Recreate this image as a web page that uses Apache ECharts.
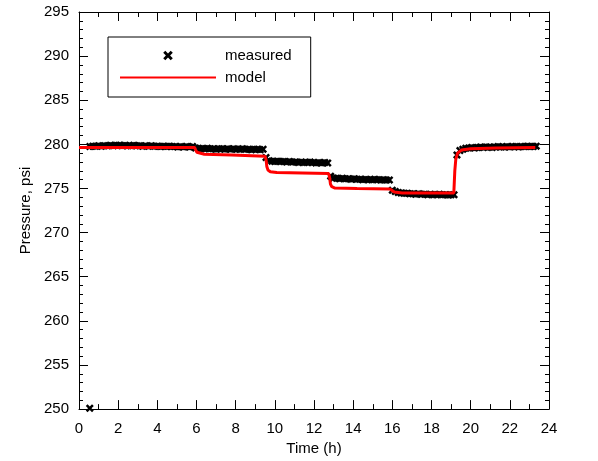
<!DOCTYPE html>
<html>
<head>
<meta charset="utf-8">
<script src="https://cdn.jsdelivr.net/npm/echarts@6/dist/echarts.min.js"></script>
<style>
  html, body { margin: 0; padding: 0; background: #fff; }
  #chart { width: 598px; height: 461px; }
</style>
</head>
<body>
<div id="chart"></div>
<script>
// Gauge record: first (spurious) reading, then logger samples every 0.15 h from 0.55 h
const outlierReading = [0.55, 250.1];
const sampleStart = 0.55;
const sampleStep = 0.15;
const measuredPressure = [
  // 0.55 – 5.80 h
  279.75, 279.8, 279.8, 279.85, 279.8, 279.85, 279.85, 279.9, 279.85, 279.9,
  279.9, 279.85, 279.9, 279.85, 279.85, 279.9, 279.85, 279.85, 279.8, 279.85,
  279.8, 279.85, 279.8, 279.8, 279.75, 279.8, 279.75, 279.8, 279.75, 279.75,
  279.7, 279.75, 279.7, 279.75, 279.7, 279.75,
  // 5.95 h
  279.6,
  // 6.10 – 9.40 h
  279.55, 279.5, 279.5, 279.55, 279.5, 279.5, 279.45, 279.5, 279.5, 279.45,
  279.5, 279.45, 279.5, 279.45, 279.45, 279.5, 279.45, 279.45, 279.4, 279.45,
  279.45, 279.4, 279.45,
  // 9.55 h
  278.5,
  // 9.70 – 12.70 h
  278.15, 278.1, 278.05, 278.1, 278.05, 278.05, 278.0, 278.05, 278.0, 278.0,
  277.95, 278.0, 277.95, 277.95, 278.0, 277.95, 277.9, 277.95, 277.9, 277.95,
  277.9,
  // 12.85 h
  276.4,
  // 13.00 – 15.85 h
  276.2, 276.15, 276.1, 276.15, 276.1, 276.1, 276.05, 276.1, 276.05, 276.05,
  276.0, 276.05, 276.0, 276.0, 276.05, 276.0, 275.95, 276.0, 275.95, 275.95,
  // 16.00 h
  274.8,
  // 16.15 – 19.15 h
  274.65, 274.55, 274.5, 274.45, 274.45, 274.4, 274.4, 274.35, 274.4, 274.35,
  274.35, 274.3, 274.35, 274.3, 274.3, 274.35, 274.3, 274.3, 274.25, 274.3,
  274.3,
  // 19.30 – 23.35 h
  278.8, 279.3, 279.45, 279.55, 279.6, 279.65, 279.6, 279.65, 279.7, 279.65,
  279.7, 279.7, 279.65, 279.7, 279.75, 279.7, 279.7, 279.75, 279.7, 279.75,
  279.75, 279.7, 279.75, 279.75, 279.8, 279.75, 279.75, 279.8
];

// Simulated pressure response (time h, pressure psi)
const modelTime = [
  0, 5.9, 5.96, 6.02, 6.12, 6.4, 7.8, 9.5, 9.55, 9.59, 9.65, 9.77, 10.1, 11.4, 12.75,
  12.8, 12.84, 12.91, 13.07, 14.2, 15.88, 15.98, 16.1, 16.5, 19.14, 19.16, 19.19,
  19.24, 19.33, 19.53, 20.0, 21.3, 23.3
];
const modelPressure = [
  279.65, 279.65, 279.35, 279.1, 278.95, 278.88, 278.8, 278.65, 278.3, 277.5, 277.1,
  276.9, 276.8, 276.75, 276.7, 276.2, 275.5, 275.2, 275.05, 275.0, 274.95, 274.75,
  274.6, 274.5, 274.5, 275.5, 277.0, 278.3, 279.0, 279.35, 279.5, 279.6, 279.65
];

const timeTicks = { min: 0, max: 24, interval: 2 };
const pressureTicks = { min: 250, max: 295, interval: 5 };

const measuredData = [outlierReading].concat(
  measuredPressure.map((p, i) => [sampleStart + i * sampleStep, p])
);
const modelData = modelTime.map((t, i) => [t, modelPressure[i]]);

const crossSymbol = 'path://M0,2.2L2.2,0L5,2.8L7.8,0L10,2.2L7.2,5L10,7.8L7.8,10L5,7.2L2.2,10L0,7.8L2.8,5Z';
const FONT = "'Liberation Sans', Arial, Helvetica, sans-serif";

const frameAxis = (extra) => Object.assign({
  type: 'value',
  axisLine: { show: true, onZero: false, lineStyle: { color: '#000', width: 1 } },
  axisTick: { show: true, inside: true, length: 9, lineStyle: { color: '#000', width: 1 } },
  minorTick: { show: true, length: 4, lineStyle: { color: '#000', width: 1 } },
  splitLine: { show: false },
  minorSplitLine: { show: false },
  axisLabel: { show: false }
}, extra);

const chart = echarts.init(document.getElementById('chart'), null, { renderer: 'canvas' });
chart.setOption({
  animation: false,
  backgroundColor: '#fff',
  textStyle: { fontFamily: FONT },
  grid: { left: 79, right: 49, top: 12, bottom: 45, containLabel: false },
  xAxis: [
    frameAxis({
      position: 'bottom', min: timeTicks.min, max: timeTicks.max, interval: timeTicks.interval,
      minorTick: { show: true, splitNumber: 2, length: 5, lineStyle: { color: '#000' } },
      axisLabel: { show: true, color: '#000', fontSize: 15, fontFamily: FONT, margin: 12 },
      name: 'Time (h)', nameLocation: 'middle', nameGap: 29,
      nameTextStyle: { color: '#000', fontSize: 15, fontFamily: FONT }
    }),
    frameAxis({
      position: 'top', min: timeTicks.min, max: timeTicks.max, interval: timeTicks.interval,
      minorTick: { show: true, splitNumber: 2, length: 5, lineStyle: { color: '#000' } }
    })
  ],
  yAxis: [
    frameAxis({
      position: 'left', min: pressureTicks.min, max: pressureTicks.max, interval: pressureTicks.interval,
      minorTick: { show: true, splitNumber: 5, length: 4, lineStyle: { color: '#000' } },
      axisLabel: { show: true, color: '#000', fontSize: 15, fontFamily: FONT, margin: 10 },
      name: 'Pressure, psi', nameLocation: 'middle', nameGap: 45, nameRotate: 90,
      nameTextStyle: { color: '#000', fontSize: 15, fontFamily: FONT }
    }),
    frameAxis({
      position: 'right', min: pressureTicks.min, max: pressureTicks.max, interval: pressureTicks.interval,
      minorTick: { show: true, splitNumber: 5, length: 4, lineStyle: { color: '#000' } }
    })
  ],
  legend: {
    orient: 'vertical',
    left: 108, top: 37,
    padding: [11, 19, 12, 11],
    itemWidth: 96, itemHeight: 12, itemGap: 7,
    borderColor: '#000', borderWidth: 1, borderRadius: 0,
    backgroundColor: '#fff',
    selectedMode: false,
    textStyle: { color: '#000', fontSize: 15, fontFamily: FONT, padding: [0, 0, 0, 4] },
    data: [
      { name: 'measured', lineStyle: { opacity: 0 } },
      { name: 'model', itemStyle: { opacity: 0 } }
    ]
  },
  series: [
    {
      name: 'measured',
      type: 'line',
      data: measuredData,
      xAxisIndex: 0, yAxisIndex: 0,
      symbol: crossSymbol,
      symbolSize: 8,
      showSymbol: true,
      showAllSymbol: true,
      lineStyle: { width: 0, opacity: 0 },
      itemStyle: { color: '#000' },
      emphasis: { disabled: true },
      z: 2
    },
    {
      name: 'model',
      type: 'line',
      data: modelData,
      xAxisIndex: 0, yAxisIndex: 0,
      symbol: 'none',
      smooth: false,
      lineStyle: { color: '#ff0000', width: 3 },
      itemStyle: { color: '#ff0000' },
      emphasis: { disabled: true },
      z: 3
    }
  ]
});
</script>
</body>
</html>
